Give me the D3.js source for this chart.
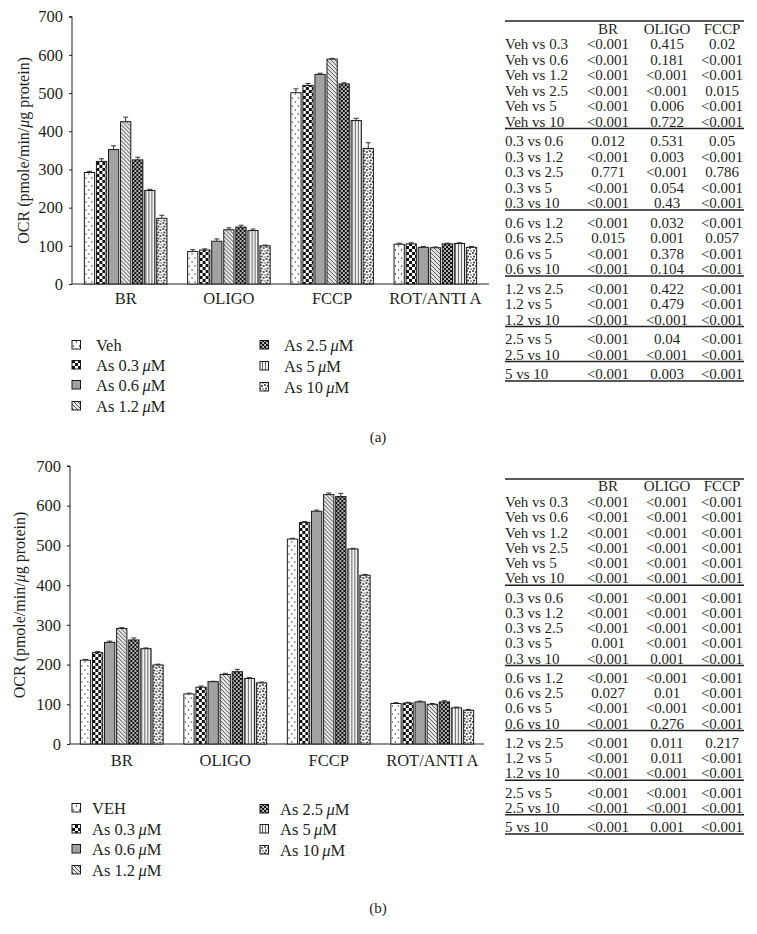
<!DOCTYPE html>
<html><head><meta charset="utf-8">
<script src="https://cdn.jsdelivr.net/npm/d3@7/dist/d3.min.js"></script>
<style>body{margin:0;background:#fff}svg{display:block}text{font-family:"Liberation Serif","Times New Roman",serif;fill:#231f20}</style>
</head><body>
<svg id="c" width="757" height="934"></svg>
<script>
const categories = ["BR","OLIGO","FCCP","ROT/ANTI A"];
const doses = ["Veh","0.3","0.6","1.2","2.5","5","10"];
const yTicks = [0,100,200,300,400,500,600,700];

// Panel (a) values per dose (BR, OLIGO, FCCP, ROT/ANTI A)
const valuesA = [
  [292, 85, 501, 104],
  [321, 89, 520, 105],
  [352, 112, 549, 96],
  [425, 142, 589, 95],
  [325, 149, 524, 105],
  [245, 140, 428, 106],
  [172, 100, 355, 96]
];
const errorsA = [
  [3, 5, 10, 3],
  [7, 3, 5, 3],
  [10, 6, 3, 2],
  [12, 5, 2, 2],
  [7, 5, 3, 2],
  [3, 4, 6, 2],
  [8, 2, 15, 2]
];
// Panel (b)
const valuesB = [
  [211, 126, 516, 102],
  [230, 143, 558, 103],
  [256, 157, 586, 106],
  [291, 175, 628, 100],
  [262, 182, 623, 106],
  [240, 165, 491, 91],
  [199, 154, 425, 85]
];
const errorsB = [
  [2, 2, 2, 2],
  [3, 3, 2, 2],
  [3, 1, 3, 2],
  [2, 3, 4, 2],
  [5, 6, 8, 3],
  [2, 2, 2, 2],
  [2, 2, 2, 2]
];
const legendFirstA = "Veh";
const legendFirstB = "VEH";

const tableHeader = ["BR","OLIGO","FCCP"];
const tableGroups = [6,5,4,3,2,1];
const tableA = [
["Veh vs 0.3","<0.001","0.415","0.02"],
["Veh vs 0.6","<0.001","0.181","<0.001"],
["Veh vs 1.2","<0.001","<0.001","<0.001"],
["Veh vs 2.5","<0.001","<0.001","0.015"],
["Veh vs 5","<0.001","0.006","<0.001"],
["Veh vs 10","<0.001","0.722","<0.001"],
["0.3 vs 0.6","0.012","0.531","0.05"],
["0.3 vs 1.2","<0.001","0.003","<0.001"],
["0.3 vs 2.5","0.771","<0.001","0.786"],
["0.3 vs 5","<0.001","0.054","<0.001"],
["0.3 vs 10","<0.001","0.43","<0.001"],
["0.6 vs 1.2","<0.001","0.032","<0.001"],
["0.6 vs 2.5","0.015","0.001","0.057"],
["0.6 vs 5","<0.001","0.378","<0.001"],
["0.6 vs 10","<0.001","0.104","<0.001"],
["1.2 vs 2.5","<0.001","0.422","<0.001"],
["1.2 vs 5","<0.001","0.479","<0.001"],
["1.2 vs 10","<0.001","<0.001","<0.001"],
["2.5 vs 5","<0.001","0.04","<0.001"],
["2.5 vs 10","<0.001","<0.001","<0.001"],
["5 vs 10","<0.001","0.003","<0.001"]
];
const tableB = [
["Veh vs 0.3","<0.001","<0.001","<0.001"],
["Veh vs 0.6","<0.001","<0.001","<0.001"],
["Veh vs 1.2","<0.001","<0.001","<0.001"],
["Veh vs 2.5","<0.001","<0.001","<0.001"],
["Veh vs 5","<0.001","<0.001","<0.001"],
["Veh vs 10","<0.001","<0.001","<0.001"],
["0.3 vs 0.6","<0.001","<0.001","<0.001"],
["0.3 vs 1.2","<0.001","<0.001","<0.001"],
["0.3 vs 2.5","<0.001","<0.001","<0.001"],
["0.3 vs 5","0.001","<0.001","<0.001"],
["0.3 vs 10","<0.001","0.001","<0.001"],
["0.6 vs 1.2","<0.001","<0.001","<0.001"],
["0.6 vs 2.5","0.027","0.01","<0.001"],
["0.6 vs 5","<0.001","<0.001","<0.001"],
["0.6 vs 10","<0.001","0.276","<0.001"],
["1.2 vs 2.5","<0.001","0.011","0.217"],
["1.2 vs 5","<0.001","0.011","<0.001"],
["1.2 vs 10","<0.001","<0.001","<0.001"],
["2.5 vs 5","<0.001","<0.001","<0.001"],
["2.5 vs 10","<0.001","<0.001","<0.001"],
["5 vs 10","<0.001","0.001","<0.001"]
];

const svg = d3.select("#c");
const defs = svg.append("defs");
function pat(id, w, h, bg, draw){
  const p = defs.append("pattern").attr("id",id).attr("patternUnits","userSpaceOnUse").attr("width",w).attr("height",h);
  p.append("rect").attr("width",w).attr("height",h).attr("fill",bg);
  draw(p);
}
pat("p0",6,8,"#fff",p=>{p.append("circle").attr("cx",1.5).attr("cy",2).attr("r",0.7).attr("fill","#222");p.append("circle").attr("cx",4.5).attr("cy",6).attr("r",0.7).attr("fill","#222");});
pat("p1",6,6,"#fff",p=>{p.append("rect").attr("width",3).attr("height",3).attr("fill","#111");p.append("rect").attr("x",3).attr("y",3).attr("width",3).attr("height",3).attr("fill","#111");});
pat("p2",4,4,"#a2a2a2",p=>{});
pat("p3",4,4,"#e6e6e6",p=>{p.append("path").attr("d","M0,0L4,4M-1,3L1,5M3,-1L5,1").attr("stroke","#555").attr("stroke-width",1);});
pat("p4",4,4,"#111",p=>{p.append("circle").attr("cx",1).attr("cy",1).attr("r",0.9).attr("fill","#fff");p.append("circle").attr("cx",3).attr("cy",3).attr("r",0.9).attr("fill","#fff");});
pat("p5",3,3,"#f2f2f2",p=>{p.append("line").attr("x1",1.5).attr("x2",1.5).attr("y1",0).attr("y2",3).attr("stroke","#666").attr("stroke-width",1);});
pat("p6",6,6,"#fff",p=>{[[1,1,.9],[4,2,.9],[2,4.5,.9],[5,5,.7]].forEach(d=>p.append("circle").attr("cx",d[0]).attr("cy",d[1]).attr("r",d[2]).attr("fill","#111"));});
const fills = doses.map((d,i)=>`url(#p${i})`);

function axisLabel(g, x, y){
  const t = g.append("text").attr("transform",`translate(${x},${y}) rotate(-90)`).attr("text-anchor","middle").attr("dominant-baseline","central").style("font-size","16px");
  t.append("tspan").text("OCR (pmole/min/");
  t.append("tspan").style("font-style","italic").text("μ");
  t.append("tspan").text("g protein)");
}

function drawChart(cfg){
  const g = svg.append("g");
  const x0 = d3.scaleBand().domain(categories).range([cfg.x0, cfg.x1]).paddingInner(0.2).paddingOuter(cfg.po);
  const x1 = d3.scaleBand().domain(d3.range(doses.length)).range([0, x0.bandwidth()]).paddingInner(0.15);
  const y = d3.scaleLinear().domain([0,700]).range([cfg.yb, cfg.yt]);
  const ya = g.append("g").attr("transform",`translate(${cfg.x0},0)`).call(d3.axisLeft(y).tickValues(yTicks).tickSize(3).tickPadding(6).tickFormat(d3.format("d")));
  ya.select(".domain").attr("stroke","#231f20").attr("d",`M-3,${y(700)}H0V${y(0)}`);
  ya.selectAll(".tick line").attr("stroke","#231f20");
  ya.selectAll(".tick text").style("font-size","16.5px").style("font-family","Liberation Serif").attr("fill","#231f20");
  g.append("line").attr("x1",cfg.x0).attr("x2",cfg.x1).attr("y1",y(0)).attr("y2",y(0)).attr("stroke","#231f20").attr("stroke-width",1);
  const grp = g.selectAll(".grp").data(categories).join("g").attr("transform",c=>`translate(${x0(c)},0)`);
  cfg.values.forEach((vals, si)=>{
    grp.append("line")
      .attr("x1",(c,ci)=>x1(si)+x1.bandwidth()/2).attr("x2",(c,ci)=>x1(si)+x1.bandwidth()/2)
      .attr("y1",(c,ci)=>y(vals[ci])).attr("y2",(c,ci)=>y(vals[ci]+cfg.errors[si][ci]))
      .attr("stroke","#333").attr("stroke-width",1);
    grp.append("line")
      .attr("x1",(c,ci)=>x1(si)+x1.bandwidth()/2-2.5).attr("x2",(c,ci)=>x1(si)+x1.bandwidth()/2+2.5)
      .attr("y1",(c,ci)=>y(vals[ci]+cfg.errors[si][ci])).attr("y2",(c,ci)=>y(vals[ci]+cfg.errors[si][ci]))
      .attr("stroke","#333").attr("stroke-width",1);
    grp.append("rect")
      .attr("x",x1(si)).attr("width",x1.bandwidth())
      .attr("y",(c,ci)=>y(vals[ci])).attr("height",(c,ci)=>y(0)-y(vals[ci]))
      .attr("fill",fills[si]).attr("stroke","#1a1a1a").attr("stroke-width",1);
  });
  g.selectAll(".cat").data(categories).join("text")
    .attr("x",c=>x0(c)+x0.bandwidth()/2).attr("y",cfg.catY).attr("text-anchor","middle").style("font-size","16.5px").text(c=>c);
  axisLabel(g, cfg.labX, (cfg.yt+cfg.yb)/2);
  // legend
  const lg = g.append("g");
  doses.forEach((d,i)=>{
    const col = i<4?0:1, row = i<4?i:i-4;
    const lx = cfg.legX[col], ly = cfg.legY[col][row];
    lg.append("rect").attr("x",lx).attr("y",ly-4.5).attr("width",8.5).attr("height",8.5).attr("fill",fills[i]).attr("stroke","#1a1a1a").attr("stroke-width",1);
    const t = lg.append("text").attr("x",lx+cfg.legTx).attr("y",ly).attr("dominant-baseline","central").style("font-size","16.5px");
    if(i===0){ t.text(cfg.first); }
    else { t.append("tspan").text(`As ${d}\u2009`); t.append("tspan").style("font-style","italic").text("μ"); t.append("tspan").text("M"); }
  });
  g.append("text").attr("x",378).attr("y",cfg.capY).attr("text-anchor","middle").attr("dominant-baseline","central").style("font-size","15px").text(cfg.cap);
}

function drawTable(cfg){
  const g = svg.append("g");
  const L = 505, R = 744, cols = [608, 667, 722];
  g.append("line").attr("x1",L).attr("x2",R).attr("y1",cfg.top).attr("y2",cfg.top).attr("stroke","#231f20").attr("stroke-width",1.5);
  tableHeader.forEach((h,i)=>g.append("text").attr("x",cols[i]).attr("y",cfg.header).attr("text-anchor","middle").attr("dominant-baseline","central").style("font-size","15px").text(h));
  let idx = 0, yy = cfg.r0;
  tableGroups.forEach((n,gi)=>{
    for(let k=0;k<n;k++){
      const r = cfg.rows[idx++];
      g.append("text").attr("x",L).attr("y",yy).attr("dominant-baseline","central").style("font-size","15px").text(r[0]);
      r.slice(1).forEach((v,i)=>g.append("text").attr("x",cols[i]).attr("y",yy).attr("text-anchor","middle").attr("dominant-baseline","central").style("font-size","15px").text(v));
      if(k<n-1) yy += cfg.s;
    }
    const ly = yy + 7;
    g.append("line").attr("x1",L).attr("x2",R).attr("y1",ly).attr("y2",ly).attr("stroke","#231f20").attr("stroke-width",1.5);
    yy += cfg.s + cfg.gap;
  });
}

drawChart({values:valuesA, errors:errorsA, x0:72, x1:489, po:0.12, yb:284, yt:16.7, catY:304, labX:23,
  legX:[72,260], legTx:24, legY:[[345,365,385,406],[345,366,387]], first:legendFirstA, cap:"(a)", capY:437});
drawChart({values:valuesB, errors:errorsB, x0:70, x1:484, po:0.1, yb:744, yt:466, catY:766, labX:19,
  legX:[72,260], legTx:20, legY:[[808,829,849,870],[809,829,850]], first:legendFirstB, cap:"(b)", capY:908});
drawTable({rows:tableA, top:21, header:29, r0:44, s:15.5, gap:4});
drawTable({rows:tableB, top:479, header:486, r0:502, s:15.25, gap:4});
</script>
</body></html>
